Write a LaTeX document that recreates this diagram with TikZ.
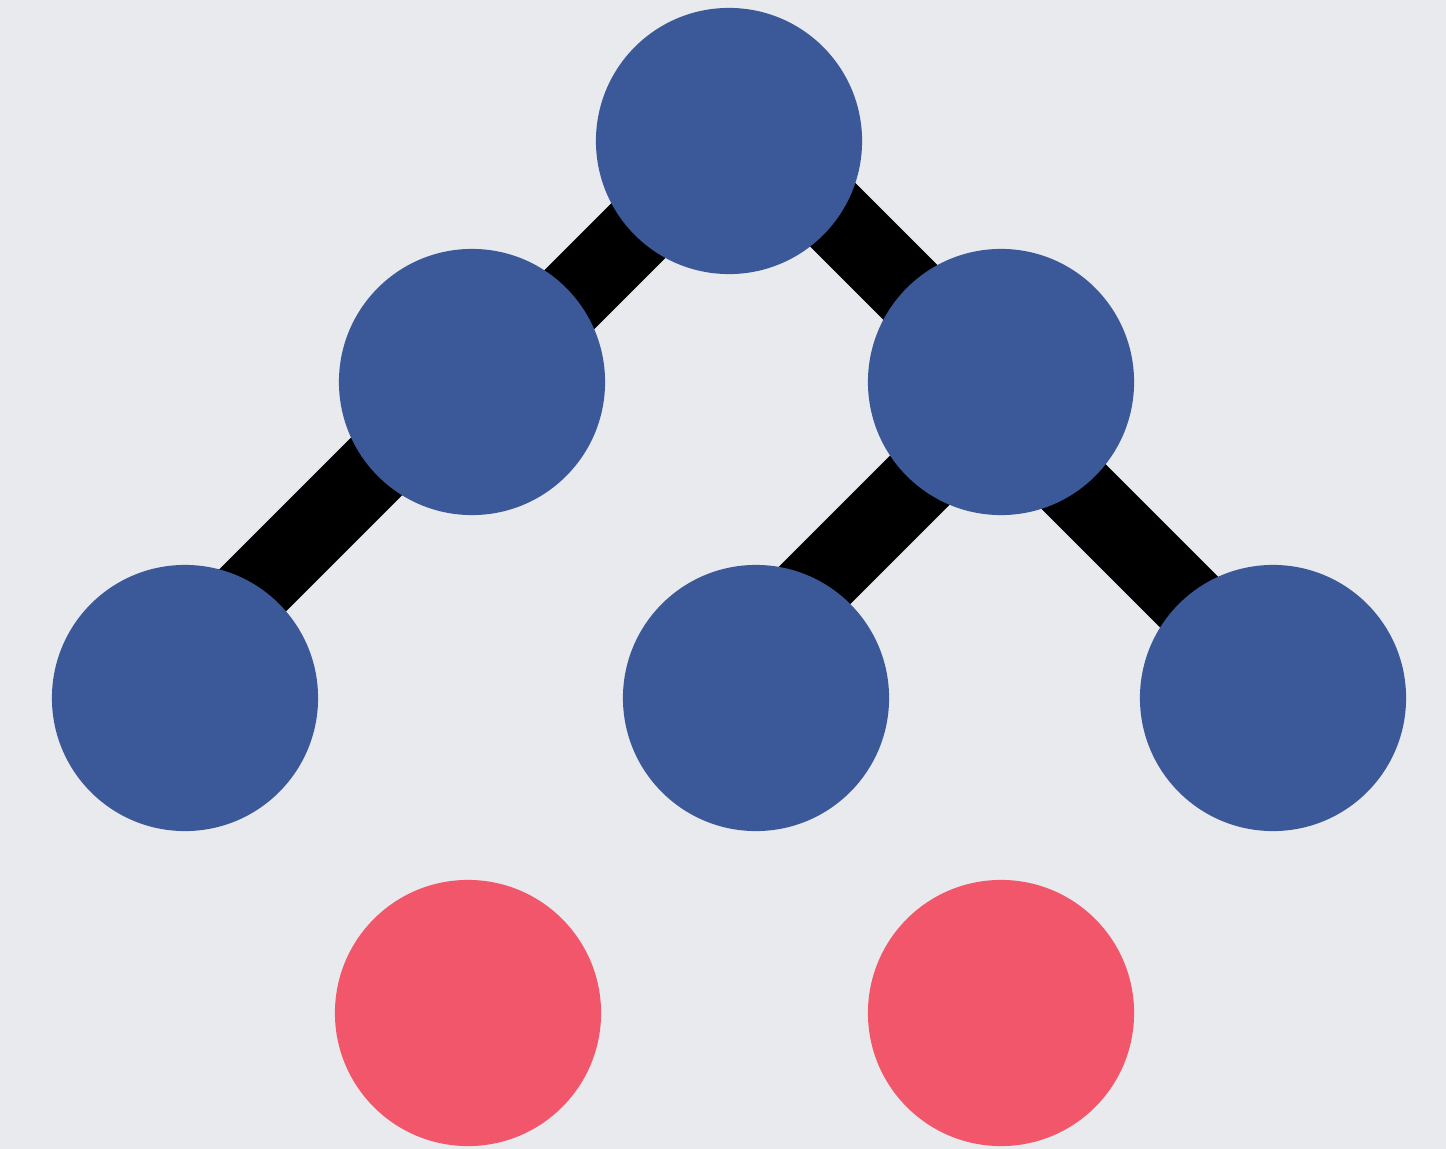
\documentclass[tikz,border=0pt]{standalone}
\begin{document}
\begin{tikzpicture}[x=0.01cm,y=-0.01cm,
  blue node/.style={circle,fill=nodeblue,draw=none,minimum size=2.66cm,inner sep=0pt},
  red node/.style={circle,fill=nodered,draw=none,minimum size=2.66cm,inner sep=0pt},
  edge/.style={line width=0.77cm,black}]
\definecolor{nodeblue}{HTML}{3B5998}
\definecolor{nodered}{HTML}{F2566B}
\definecolor{bg}{HTML}{E9EAEE}
\fill[bg] (0,0) rectangle (1446,1149);
\useasboundingbox (0,0) rectangle (1446,1149);
% edge end points (edges run at 45 degrees)
\coordinate (e1a) at (729,140);
\coordinate (e1b) at (479.5,389.5);
\coordinate (e2a) at (744,126);
\coordinate (e2b) at (1000.5,382.5);
\coordinate (e3a) at (466.5,376.5);
\coordinate (e3b) at (165,678);
\coordinate (e4a) at (1009.5,390.5);
\coordinate (e4b) at (729,671);
\coordinate (e5a) at (985,398);
\coordinate (e5b) at (1279,692);
\draw[edge] (e1a) -- (e1b);
\draw[edge] (e2a) -- (e2b);
\draw[edge] (e3a) -- (e3b);
\draw[edge] (e4a) -- (e4b);
\draw[edge] (e5a) -- (e5b);
\node[blue node] (nr) at (729,141) {};
\node[blue node] (nl) at (472,382) {};
\node[blue node] (nm) at (1001,382) {};
\node[blue node] (na) at (185,698) {};
\node[blue node] (nb) at (756,698) {};
\node[blue node] (nc) at (1273,698) {};
\node[red node] (x1) at (468,1013) {};
\node[red node] (x2) at (1001,1013) {};
\end{tikzpicture}
\end{document}
